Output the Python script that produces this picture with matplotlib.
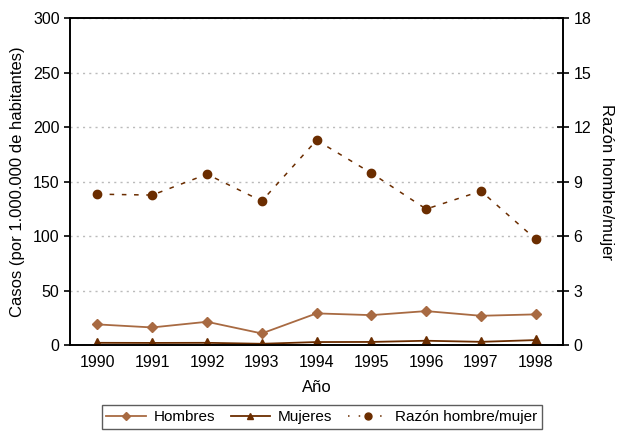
import matplotlib.pyplot as plt
from matplotlib.lines import Line2D

plt.rcParams['font.family'] = ['Liberation Sans', 'DejaVu Sans']
plt.rcParams['font.size'] = 11

years = [1990, 1991, 1992, 1993, 1994, 1995, 1996, 1997, 1998]
hombres = [19.0, 16.2, 21.4, 10.7, 29.1, 27.5, 31.2, 26.9, 28.2]
mujeres = [2.1, 2.0, 2.1, 1.2, 2.8, 2.9, 4.0, 3.0, 4.6]
razon = [8.31, 8.26, 9.41, 7.93, 11.28, 9.47, 7.49, 8.48, 5.83]

c_h = "#a86a42"
c_m = "#6b2d00"
c_r = "#6b2d00"

fig = plt.figure(figsize=(6.25, 4.33), dpi=100)
ax = fig.add_axes([0.112, 0.203, 0.789, 0.755])
ax2 = ax.twinx()

ax.plot(years, hombres, color=c_h, marker="D", markersize=5, lw=1.3, zorder=3)
ax.plot(years, mujeres, color=c_m, marker="^", markersize=7, lw=1.3, zorder=3)
ax2.plot(years, razon, color=c_r, marker="o", markersize=6, lw=1.1,
         linestyle=(0, (3, 5)), zorder=3)

ax.set_xlim(1989.5, 1998.5)
ax.set_ylim(0, 300)
ax2.set_ylim(0, 18)
ax.set_xticks(years)
ax.set_yticks(range(0, 301, 50))
ax2.set_yticks(range(0, 19, 3))
ax.yaxis.grid(True, color="#bbbbbb", linestyle=(0, (1.5, 3)), lw=1)
ax.set_axisbelow(True)

for a in (ax, ax2):
    for s in a.spines.values():
        s.set_linewidth(1.2)
ax.tick_params(axis="y", direction="out", length=4, width=1.2, labelsize=11.5)
ax.tick_params(axis="x", length=0, labelsize=11.5, pad=7)
ax2.tick_params(axis="y", direction="inout", length=8, width=1.2, labelsize=11.5)

ax.set_xlabel("Año", fontsize=12, labelpad=7)
ax.set_ylabel("Casos (por 1.000.000 de habitantes)", fontsize=12, labelpad=6)
ax2.set_ylabel("Razón hombre/mujer", fontsize=12, rotation=270, labelpad=16)

handles = [
    Line2D([], [], color=c_h, marker="D", markersize=4, lw=1.3),
    Line2D([], [], color=c_m, marker="^", markersize=5, lw=1.3),
    Line2D([], [], color=c_r, marker="o", markersize=5, lw=1.1, linestyle=(0, (1, 6))),
]
leg = fig.legend(handles, ["Hombres", "Mujeres", "Razón hombre/mujer"],
                 loc="center", bbox_to_anchor=(0.515, 0.037), ncol=3, fontsize=11,
                 frameon=True, fancybox=False, edgecolor="#333333",
                 handlelength=2.6, handletextpad=0.5, columnspacing=1.0, borderpad=0.3)
leg.get_frame().set_linewidth(1.0)

fig.savefig("out.png", dpi=100)
